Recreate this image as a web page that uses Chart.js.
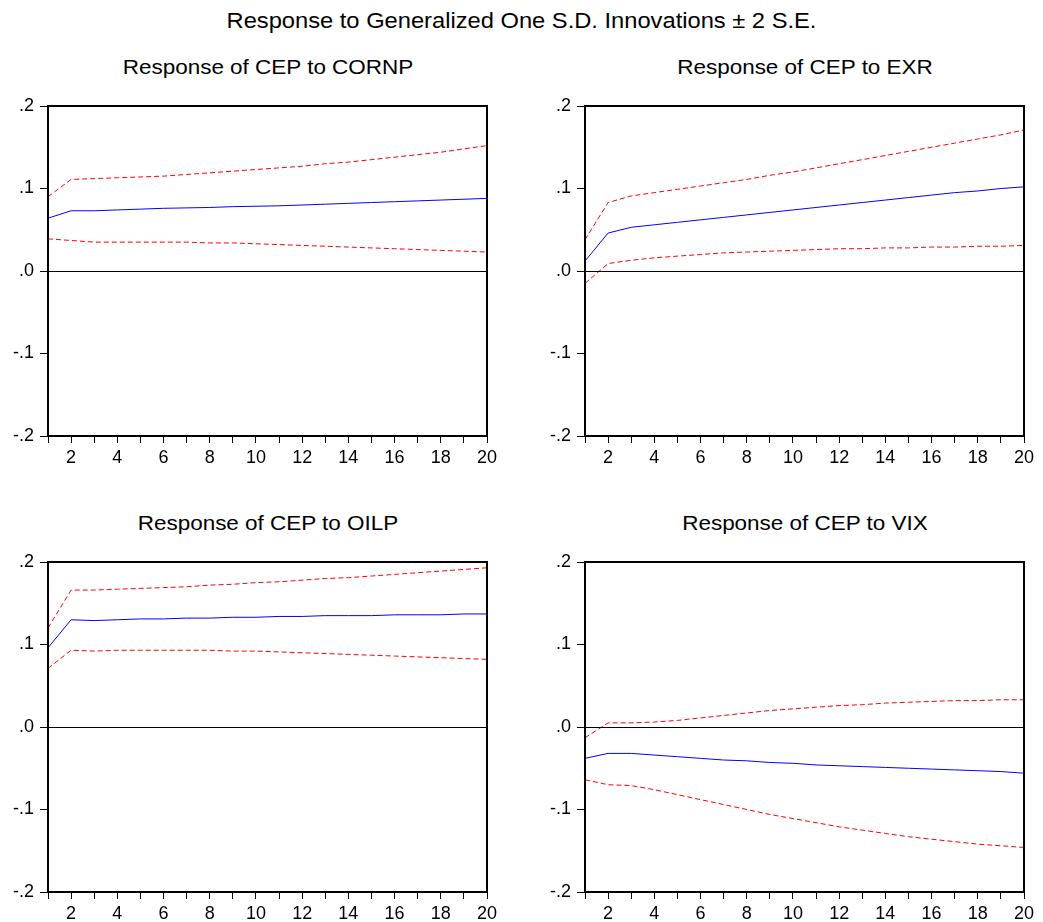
<!DOCTYPE html>
<html>
<head>
<meta charset="utf-8">
<script src="https://cdn.jsdelivr.net/npm/chart.js@4/dist/chart.umd.min.js"></script>
<style>
  body { margin: 0; background: #fff; width: 1043px; height: 922px; position: relative; overflow: hidden; font-family: "Liberation Sans", Arial, sans-serif; }
  .title { position: absolute; left: 0; width: 1043px; text-align: center; top: 10px; font-size: 22px; line-height: 22px; color: #000; transform: scaleX(1.077); transform-origin: 522px 0; white-space: nowrap; }
  .sub { position: absolute; width: 440px; text-align: center; font-size: 21px; line-height: 21px; color: #000; transform: scaleX(1.07); white-space: nowrap; }
  canvas { position: absolute; }
</style>
</head>
<body>
<div class="title">Response to Generalized One S.D. Innovations ± 2 S.E.</div>
<div class="sub" style="left:48px; top:56px;">Response of CEP to CORNP</div>
<div class="sub" style="left:585px; top:56px;">Response of CEP to EXR</div>
<div class="sub" style="left:48px; top:512px;">Response of CEP to OILP</div>
<div class="sub" style="left:585px; top:512px;">Response of CEP to VIX</div>
<canvas id="c1" style="left:0px; top:94px;" width="500" height="370"></canvas>
<canvas id="c2" style="left:537px; top:94px;" width="500" height="370"></canvas>
<canvas id="c3" style="left:0px; top:550px;" width="500" height="370"></canvas>
<canvas id="c4" style="left:537px; top:550px;" width="500" height="370"></canvas>
<script>
// periods 1..20
const periods = [1, 2, 3, 4, 5, 6, 7, 8, 9, 10, 11, 12, 13, 14, 15, 16, 17, 18, 19, 20];
const yTicks = [-0.2, -0.1, 0.0, 0.1, 0.2];
const yTickLabels = ["-.2", "-.1", ".0", ".1", ".2"];

// CEP to CORNP
const cornpMid = [0.064, 0.073, 0.073, 0.074, 0.075, 0.076, 0.0765, 0.077, 0.078, 0.0785, 0.079, 0.080, 0.081, 0.082, 0.083, 0.084, 0.085, 0.086, 0.087, 0.088];
const cornpUp = [0.090, 0.111, 0.112, 0.113, 0.114, 0.115, 0.117, 0.119, 0.121, 0.123, 0.125, 0.127, 0.130, 0.132, 0.135, 0.138, 0.141, 0.144, 0.148, 0.152];
const cornpLow = [0.039, 0.037, 0.035, 0.035, 0.035, 0.035, 0.035, 0.034, 0.034, 0.033, 0.032, 0.031, 0.030, 0.029, 0.028, 0.027, 0.026, 0.025, 0.024, 0.023];

// CEP to EXR
const exrMid = [0.012, 0.046, 0.053, 0.056, 0.059, 0.062, 0.065, 0.068, 0.071, 0.074, 0.077, 0.080, 0.083, 0.086, 0.089, 0.092, 0.095, 0.097, 0.100, 0.102];
const exrUp = [0.038, 0.083, 0.091, 0.095, 0.099, 0.103, 0.107, 0.111, 0.116, 0.120, 0.125, 0.130, 0.135, 0.140, 0.145, 0.150, 0.155, 0.160, 0.165, 0.171];
const exrLow = [-0.015, 0.009, 0.013, 0.016, 0.018, 0.020, 0.022, 0.023, 0.024, 0.025, 0.026, 0.027, 0.027, 0.028, 0.028, 0.029, 0.029, 0.030, 0.030, 0.031];

// CEP to OILP
const oilpMid = [0.096, 0.130, 0.129, 0.130, 0.131, 0.131, 0.132, 0.132, 0.133, 0.133, 0.134, 0.134, 0.135, 0.135, 0.135, 0.136, 0.136, 0.136, 0.137, 0.137];
const oilpUp = [0.120, 0.166, 0.166, 0.167, 0.168, 0.169, 0.170, 0.172, 0.173, 0.175, 0.176, 0.178, 0.180, 0.181, 0.183, 0.185, 0.187, 0.189, 0.191, 0.193];
const oilpLow = [0.071, 0.093, 0.092, 0.093, 0.093, 0.093, 0.093, 0.093, 0.092, 0.092, 0.091, 0.090, 0.089, 0.088, 0.087, 0.086, 0.085, 0.084, 0.083, 0.082];

// CEP to VIX
const vixMid = [-0.038, -0.032, -0.032, -0.034, -0.036, -0.038, -0.040, -0.041, -0.043, -0.044, -0.046, -0.047, -0.048, -0.049, -0.050, -0.051, -0.052, -0.053, -0.054, -0.056];
const vixUp = [-0.013, 0.005, 0.005, 0.006, 0.008, 0.011, 0.014, 0.017, 0.020, 0.022, 0.024, 0.026, 0.027, 0.029, 0.030, 0.031, 0.032, 0.032, 0.033, 0.033];
const vixLow = [-0.064, -0.070, -0.071, -0.076, -0.082, -0.088, -0.094, -0.100, -0.106, -0.111, -0.116, -0.121, -0.125, -0.129, -0.133, -0.136, -0.139, -0.142, -0.144, -0.146];

const font = { family: "'Liberation Sans', Arial, sans-serif", size: 18 };

// frame around plot + zero line
const framePlugin = {
  id: "frame",
  afterDatasetsDraw(chart) {
    const a = chart.chartArea;
    const c = chart.ctx;
    const y0 = chart.scales.y.getPixelForValue(0);
    c.save();
    c.strokeStyle = "#000";
    c.lineWidth = 1;
    c.beginPath();
    c.moveTo(a.left, Math.round(y0) + 0.5);
    c.lineTo(a.right, Math.round(y0) + 0.5);
    c.stroke();
    c.lineWidth = 2;
    c.strokeRect(a.left, a.top, a.right - a.left, a.bottom - a.top);
    c.restore();
  },
};

function toPts(vals) {
  return vals.map((v, i) => ({ x: periods[i], y: v }));
}

function makeChart(id, mid, up, low) {
  new Chart(document.getElementById(id), {
    type: "line",
    data: {
      datasets: [
        { data: toPts(up), borderColor: "#ff0000", borderWidth: 1, borderDash: [5, 3], pointRadius: 0, tension: 0 },
        { data: toPts(low), borderColor: "#ff0000", borderWidth: 1, borderDash: [5, 3], pointRadius: 0, tension: 0 },
        { data: toPts(mid), borderColor: "#0000ff", borderWidth: 1, pointRadius: 0, tension: 0 },
      ],
    },
    options: {
      responsive: false,
      animation: false,
      layout: { padding: { top: 12, right: 13, left: 0, bottom: 0 } },
      plugins: { legend: { display: false }, tooltip: { enabled: false } },
      scales: {
        x: {
          type: "linear",
          min: 1,
          max: 20,
          afterFit: (s) => { s.height = 28; s.paddingLeft = 0; s.paddingRight = 0; },
          afterBuildTicks: (s) => { s.ticks = periods.map((p) => ({ value: p })); },
          ticks: {
            autoSkip: false,
            maxRotation: 0,
            color: "#000",
            font: font,
            padding: 4,
            callback: (v) => (v % 2 === 0 ? String(v) : ""),
          },
          grid: { drawOnChartArea: false, drawTicks: true, tickLength: 7, color: "#000" },
          border: { display: false },
        },
        y: {
          min: -0.2,
          max: 0.2,
          afterFit: (s) => { s.width = 48; s.paddingTop = 0; s.paddingBottom = 0; },
          afterBuildTicks: (s) => { s.ticks = yTicks.map((v) => ({ value: v })); },
          ticks: {
            color: "#000",
            font: font,
            padding: 6,
            callback: (v) => yTickLabels[yTicks.findIndex((t) => Math.abs(t - v) < 1e-9)],
          },
          grid: { drawOnChartArea: false, drawTicks: true, tickLength: 8, color: "#000" },
          border: { display: false },
        },
      },
    },
    plugins: [framePlugin],
  });
}

makeChart("c1", cornpMid, cornpUp, cornpLow);
makeChart("c2", exrMid, exrUp, exrLow);
makeChart("c3", oilpMid, oilpUp, oilpLow);
makeChart("c4", vixMid, vixUp, vixLow);
</script>
</body>
</html>
